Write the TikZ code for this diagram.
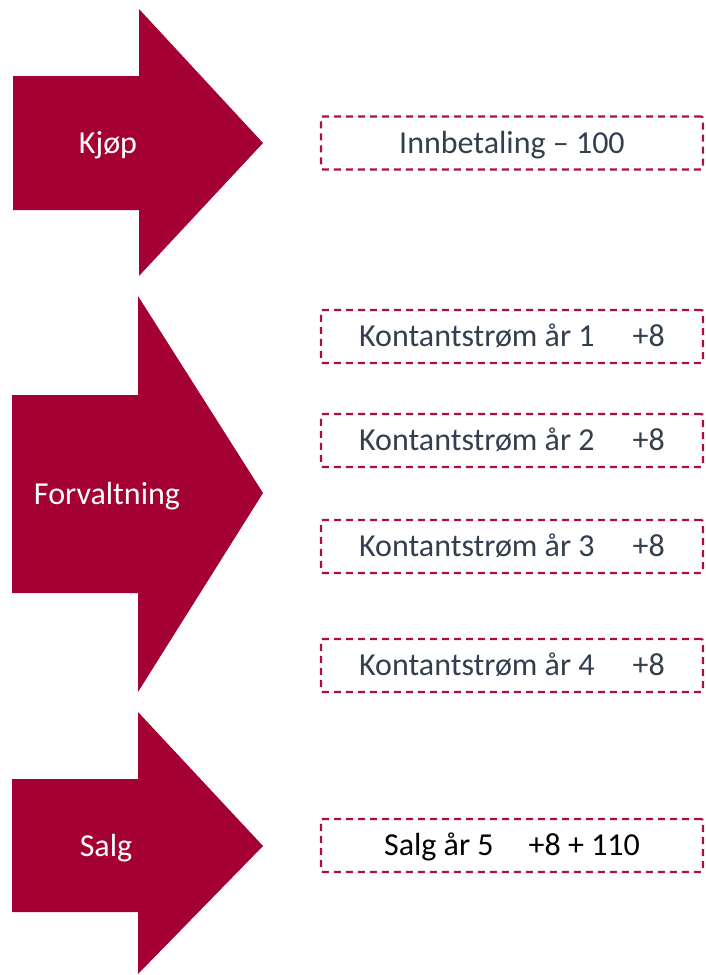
\documentclass[tikz,border=0pt]{standalone}
\usepackage{fontspec}
\setmainfont{Carlito}
\definecolor{crimson}{HTML}{A50034}
\definecolor{dashc}{HTML}{AE0C45}
\definecolor{slate}{HTML}{333F4F}
\begin{document}
\begin{tikzpicture}[x=1pt,y=-1pt,
  arrowshape/.style={fill=crimson,draw=none},
  phase/.style={text=white,font=\fontsize{32}{38}\selectfont,inner sep=0pt,text height=26pt,text depth=6pt},
  flowbox/.style={draw=dashc,line width=2.2pt,dash pattern=on 7pt off 5pt,rounded corners=2pt,
    minimum width=382pt,minimum height=53pt,inner sep=0pt,text=slate,
    font=\fontsize{32}{38}\selectfont,text height=26pt,text depth=6pt}]
\useasboundingbox (0,0) rectangle (705,975);
% arrows
\path[arrowshape] (13,76) -- (139,76) -- (139,9) -- (263,143) -- (139,276) -- (139,210) -- (13,210) -- cycle;
\path[arrowshape] (12,395) -- (138,395) -- (138,296) -- (263,493) -- (138,692) -- (138,593) -- (12,593) -- cycle;
\path[arrowshape] (12,779) -- (138,779) -- (138,712) -- (263,846) -- (138,974) -- (138,912) -- (12,912) -- cycle;
\node[phase] (kjop) at (108,143) {Kjøp};
\node[phase] (forv) at (107,494) {Forvaltning};
\node[phase] (salg) at (106,846) {Salg};
% boxes
\node[flowbox] (b1) at (512,143) {Innbetaling – 100};
\node[flowbox] (b2) at (512,336.5) {Kontantstrøm år 1\hspace{38pt}+8};
\node[flowbox] (b3) at (512,440.5) {Kontantstrøm år 2\hspace{38pt}+8};
\node[flowbox] (b4) at (512,546.5) {Kontantstrøm år 3\hspace{38pt}+8};
\node[flowbox] (b5) at (512,665.5) {Kontantstrøm år 4\hspace{38pt}+8};
\node[flowbox,text=black] (b6) at (512,845.5) {Salg år 5\hspace{35pt}+8 + 110};
\end{tikzpicture}
\end{document}
